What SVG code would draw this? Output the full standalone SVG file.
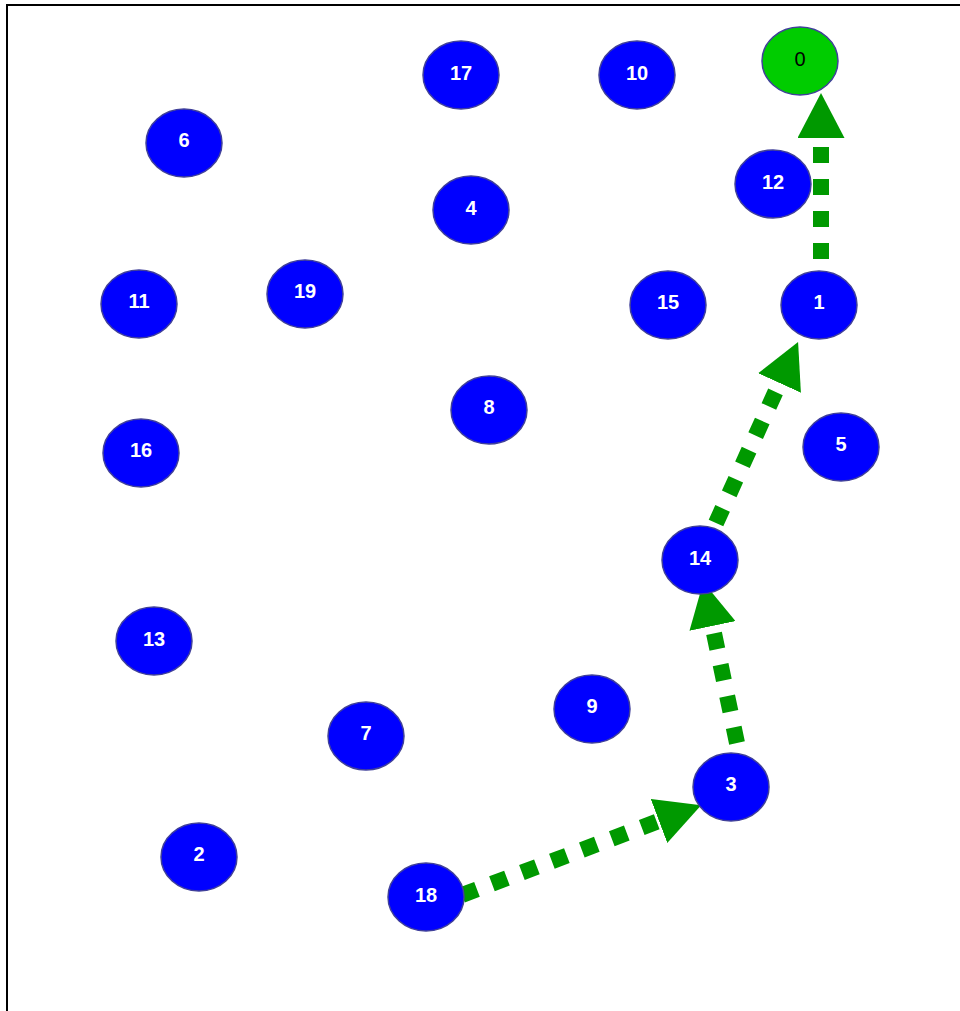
<svg xmlns="http://www.w3.org/2000/svg" width="960" height="1011" viewBox="0 0 960 1011">
<style>
.node ellipse{fill:#0000ff;stroke:#40409a;stroke-width:1.5}
.node text{fill:#ffffff;font-family:"Liberation Sans",Arial,sans-serif;font-size:20px;font-weight:bold;text-anchor:middle}
#n0 ellipse{fill:#00cc00}
#n0 text{fill:#000000;font-weight:normal}
.edge{stroke:#009900;stroke-width:16;stroke-dasharray:16 16;fill:none;marker-end:url(#arrow)}
</style>
<defs>
<marker id="arrow" markerUnits="userSpaceOnUse" viewBox="0 0 45 47" markerWidth="45" markerHeight="47" refX="0" refY="23.5" orient="auto">
<path d="M0,0 L45,23.5 L0,47 Z" fill="#009900"/>
</marker>
</defs>
<rect x="0" y="0" width="960" height="1011" fill="#ffffff"/>
<rect x="7" y="5" width="970" height="1020" fill="none" stroke="#000000" stroke-width="2"/>
<g id="edges">
<line class="edge" x1="462" y1="895" x2="659" y2="821"/>
<line class="edge" x1="737" y1="743" x2="712.5" y2="626"/>
<line class="edge" x1="716" y1="523" x2="779.5" y2="383"/>
<line class="edge" x1="821" y1="259" x2="821" y2="138"/>
</g>
<g id="n0" class="node"><ellipse cx="800" cy="61" rx="38" ry="34"/><text x="800" y="66">0</text></g>
<g id="n17" class="node"><ellipse cx="461" cy="75" rx="38" ry="34"/><text x="461" y="80">17</text></g>
<g id="n10" class="node"><ellipse cx="637" cy="75" rx="38" ry="34"/><text x="637" y="80">10</text></g>
<g id="n6" class="node"><ellipse cx="184" cy="143" rx="38" ry="34"/><text x="184" y="147">6</text></g>
<g id="n12" class="node"><ellipse cx="773" cy="184" rx="38" ry="34"/><text x="773" y="189">12</text></g>
<g id="n4" class="node"><ellipse cx="471" cy="210" rx="38" ry="34"/><text x="471" y="215">4</text></g>
<g id="n11" class="node"><ellipse cx="139" cy="304" rx="38" ry="34"/><text x="139" y="308">11</text></g>
<g id="n19" class="node"><ellipse cx="305" cy="294" rx="38" ry="34"/><text x="305" y="298">19</text></g>
<g id="n15" class="node"><ellipse cx="668" cy="305" rx="38" ry="34"/><text x="668" y="309">15</text></g>
<g id="n1" class="node"><ellipse cx="819" cy="305" rx="38" ry="34"/><text x="819" y="309">1</text></g>
<g id="n8" class="node"><ellipse cx="489" cy="410" rx="38" ry="34"/><text x="489" y="414">8</text></g>
<g id="n5" class="node"><ellipse cx="841" cy="447" rx="38" ry="34"/><text x="841" y="451">5</text></g>
<g id="n16" class="node"><ellipse cx="141" cy="453" rx="38" ry="34"/><text x="141" y="457">16</text></g>
<g id="n14" class="node"><ellipse cx="700" cy="560" rx="38" ry="34"/><text x="700" y="565">14</text></g>
<g id="n13" class="node"><ellipse cx="154" cy="641" rx="38" ry="34"/><text x="154" y="646">13</text></g>
<g id="n9" class="node"><ellipse cx="592" cy="709" rx="38" ry="34"/><text x="592" y="713">9</text></g>
<g id="n7" class="node"><ellipse cx="366" cy="736" rx="38" ry="34"/><text x="366" y="740">7</text></g>
<g id="n3" class="node"><ellipse cx="731" cy="787" rx="38" ry="34"/><text x="731" y="791">3</text></g>
<g id="n2" class="node"><ellipse cx="199" cy="857" rx="38" ry="34"/><text x="199" y="861">2</text></g>
<g id="n18" class="node"><ellipse cx="426" cy="897" rx="38" ry="34"/><text x="426" y="902">18</text></g>
</svg>
